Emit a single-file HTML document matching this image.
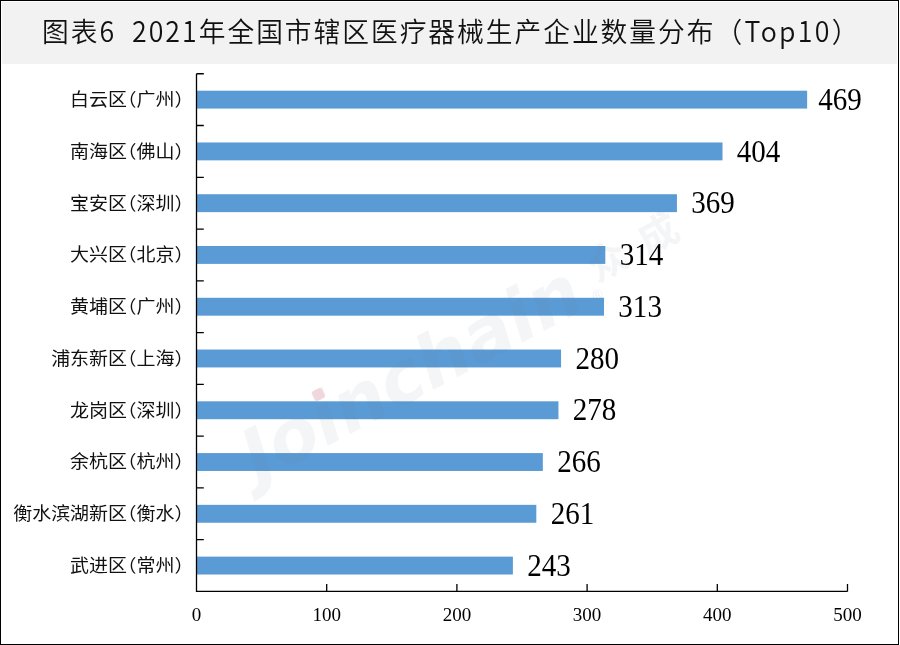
<!DOCTYPE html>
<html lang="zh-CN"><head><meta charset="utf-8"><title>图表6 2021年全国市辖区医疗器械生产企业数量分布（Top10）</title>
<style>
html,body{margin:0;padding:0;background:#fff;}
body{width:900px;height:645px;position:relative;overflow:hidden;}
#frame{position:absolute;left:0;top:0;width:899px;height:645px;box-sizing:border-box;border:1px solid #000;}
#head{position:absolute;left:2px;top:2px;width:895px;height:62px;background:#f2f2f2;}
#title{position:absolute;left:40px;top:10.8px;white-space:pre;transform:scaleY(1.04);transform-origin:0 0;font-family:"Noto Sans CJK SC","Liberation Sans",sans-serif;font-weight:350;font-size:26.7px;letter-spacing:2.02px;color:#111;line-height:34px;}
svg{position:absolute;left:0;top:0;}
.tp{letter-spacing:2.3px;}
.val{font-family:"Liberation Serif",serif;font-size:29.5px;fill:#000;}
.tick{font-family:"Liberation Serif",serif;font-size:19px;fill:#000;text-anchor:middle;}
.cat{font-family:"Liberation Sans","Noto Sans CJK SC",sans-serif;font-size:19px;letter-spacing:0px;fill:#111;text-anchor:end;font-weight:400;font-feature-settings:"halt";}
.wm{font-family:"DejaVu Sans",sans-serif;font-weight:bold;font-style:oblique;font-size:72.5px;letter-spacing:0px;fill:#6a7a9a;fill-opacity:0.075;}
.wm2{font-family:"Liberation Sans","Noto Sans CJK SC",sans-serif;font-weight:bold;font-size:40px;fill:#6a7a9a;fill-opacity:0.075;}
.wm3{font-family:"Liberation Sans",sans-serif;font-size:14px;fill:#6a7a9a;fill-opacity:0.12;}
</style></head><body>
<div id="frame"></div>
<div id="head"><div id="title">图表6  2021年全国市辖区医疗器械生产企业数量分布<span class="tp">（Top10）</span></div></div>
<svg width="900" height="645" viewBox="0 0 900 645">
<rect x="196.50" y="90.69" width="610.64" height="17.9" fill="#5b9bd5"/>
<rect x="196.50" y="142.46" width="526.01" height="17.9" fill="#5b9bd5"/>
<rect x="196.50" y="194.23" width="480.44" height="17.9" fill="#5b9bd5"/>
<rect x="196.50" y="246.00" width="408.83" height="17.9" fill="#5b9bd5"/>
<rect x="196.50" y="297.77" width="407.53" height="17.9" fill="#5b9bd5"/>
<rect x="196.50" y="349.54" width="364.56" height="17.9" fill="#5b9bd5"/>
<rect x="196.50" y="401.31" width="361.96" height="17.9" fill="#5b9bd5"/>
<rect x="196.50" y="453.08" width="346.33" height="17.9" fill="#5b9bd5"/>
<rect x="196.50" y="504.85" width="339.82" height="17.9" fill="#5b9bd5"/>
<rect x="196.50" y="556.62" width="316.39" height="17.9" fill="#5b9bd5"/>
<text class="val" transform="translate(839.80 99.94) scale(0.985 1.05) translate(-839.80 -99.94)" x="817.80" y="109.34">469</text>
<text class="cat" transform="translate(0 99.04) scale(1 0.93)" x="184.0" y="7.50">白云区（广州）</text>
<text class="val" transform="translate(758.51 151.71) scale(0.985 1.05) translate(-758.51 -151.71)" x="736.51" y="161.10">404</text>
<text class="cat" transform="translate(0 150.81) scale(1 0.93)" x="184.0" y="7.50">南海区（佛山）</text>
<text class="val" transform="translate(712.94 203.48) scale(0.985 1.05) translate(-712.94 -203.48)" x="690.94" y="212.88">369</text>
<text class="cat" transform="translate(0 202.58) scale(1 0.93)" x="184.0" y="7.50">宝安区（深圳）</text>
<text class="val" transform="translate(641.33 255.25) scale(0.985 1.05) translate(-641.33 -255.25)" x="619.33" y="264.65">314</text>
<text class="cat" transform="translate(0 254.35) scale(1 0.93)" x="184.0" y="7.50">大兴区（北京）</text>
<text class="val" transform="translate(640.03 307.02) scale(0.985 1.05) translate(-640.03 -307.02)" x="618.03" y="316.42">313</text>
<text class="cat" transform="translate(0 306.12) scale(1 0.93)" x="184.0" y="7.50">黄埔区（广州）</text>
<text class="val" transform="translate(597.06 358.79) scale(0.985 1.05) translate(-597.06 -358.79)" x="575.06" y="368.19">280</text>
<text class="cat" transform="translate(0 357.88) scale(1 0.93)" x="184.0" y="7.50">浦东新区（上海）</text>
<text class="val" transform="translate(594.46 410.56) scale(0.985 1.05) translate(-594.46 -410.56)" x="572.46" y="419.95">278</text>
<text class="cat" transform="translate(0 409.65) scale(1 0.93)" x="184.0" y="7.50">龙岗区（深圳）</text>
<text class="val" transform="translate(578.83 462.33) scale(0.985 1.05) translate(-578.83 -462.33)" x="556.83" y="471.73">266</text>
<text class="cat" transform="translate(0 461.43) scale(1 0.93)" x="184.0" y="7.50">余杭区（杭州）</text>
<text class="val" transform="translate(572.32 514.10) scale(0.985 1.05) translate(-572.32 -514.10)" x="550.32" y="523.50">261</text>
<text class="cat" transform="translate(0 513.20) scale(1 0.93)" x="184.0" y="7.50">衡水滨湖新区（衡水）</text>
<text class="val" transform="translate(548.89 565.87) scale(0.985 1.05) translate(-548.89 -565.87)" x="526.89" y="575.27">243</text>
<text class="cat" transform="translate(0 564.97) scale(1 0.93)" x="184.0" y="7.50">武进区（常州）</text>
<path d="M196.50 73.75V591.45H847.50 M196.50 73.75h7.3 M196.50 125.52h7.3 M196.50 177.29h7.3 M196.50 229.06h7.3 M196.50 280.83h7.3 M196.50 332.60h7.3 M196.50 384.37h7.3 M196.50 436.14h7.3 M196.50 487.91h7.3 M196.50 539.68h7.3 M326.70 591.45v-7.4 M456.90 591.45v-7.4 M587.10 591.45v-7.4 M717.30 591.45v-7.4 M847.50 591.45v-7.4" fill="none" stroke="#000" stroke-width="1.3" stroke-linecap="butt"/>
<text class="tick" x="196.50" y="621.0">0</text>
<text class="tick" x="326.70" y="621.0">100</text>
<text class="tick" x="456.90" y="621.0">200</text>
<text class="tick" x="587.10" y="621.0">300</text>
<text class="tick" x="717.30" y="621.0">400</text>
<text class="tick" x="847.50" y="621.0">500</text>
<g transform="translate(258 483) rotate(-28)"><text class="wm" x="0" y="0">Joinchain</text><text class="wm3" x="383" y="-2">®</text><text class="wm2" x="393.1 450.2" y="-17.7">众成</text></g>
<rect x="313" y="389" width="11" height="11" rx="3" transform="rotate(-28 318.5 394.5)" fill="#e0606e" fill-opacity="0.2"/>
</svg>
</body></html>
